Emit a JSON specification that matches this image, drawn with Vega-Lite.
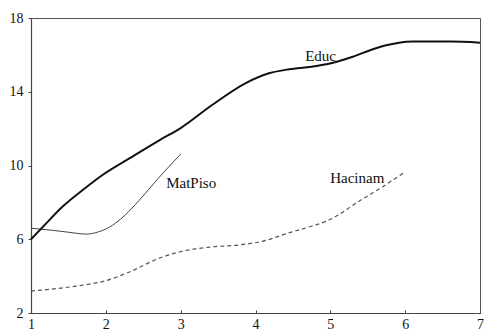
{
  "$schema": "https://vega.github.io/schema/vega-lite/v6.json",
  "width": 449,
  "height": 295,
  "autosize": {"type": "none"},
  "padding": {"left": 31, "top": 18, "right": 4, "bottom": 18},
  "background": "white",
  "config": {
    "view": {"stroke": "#555", "strokeWidth": 1},
    "font": "'Liberation Serif', 'Times New Roman', serif",
    "axis": {
      "grid": false,
      "title": null,
      "domainColor": "#444",
      "tickColor": "#444",
      "labelFont": "'Liberation Serif', 'Times New Roman', serif",
      "labelFontSize": 14,
      "labelColor": "#111",
      "labelFlush": false,
      "labelOverlap": false,
      "format": "d"
    }
  },
  "datasets": {
    "lines": [
      {"series": "Educ", "x": 1.0, "y": 6.0},
      {"series": "Educ", "x": 1.2, "y": 6.85},
      {"series": "Educ", "x": 1.43, "y": 7.8},
      {"series": "Educ", "x": 1.7, "y": 8.7},
      {"series": "Educ", "x": 1.96, "y": 9.5},
      {"series": "Educ", "x": 2.32, "y": 10.4},
      {"series": "Educ", "x": 2.72, "y": 11.38},
      {"series": "Educ", "x": 3.0, "y": 12.03},
      {"series": "Educ", "x": 3.42, "y": 13.28},
      {"series": "Educ", "x": 3.87, "y": 14.47},
      {"series": "Educ", "x": 4.18, "y": 15.0},
      {"series": "Educ", "x": 4.45, "y": 15.22},
      {"series": "Educ", "x": 4.75, "y": 15.36},
      {"series": "Educ", "x": 5.02, "y": 15.56},
      {"series": "Educ", "x": 5.3, "y": 15.9},
      {"series": "Educ", "x": 5.6, "y": 16.35},
      {"series": "Educ", "x": 5.9, "y": 16.64},
      {"series": "Educ", "x": 6.1, "y": 16.72},
      {"series": "Educ", "x": 6.6, "y": 16.72},
      {"series": "Educ", "x": 7.0, "y": 16.66},
      {"series": "MatPiso", "x": 1.0, "y": 6.6},
      {"series": "MatPiso", "x": 1.3, "y": 6.48},
      {"series": "MatPiso", "x": 1.5, "y": 6.38},
      {"series": "MatPiso", "x": 1.74, "y": 6.28},
      {"series": "MatPiso", "x": 1.9, "y": 6.4},
      {"series": "MatPiso", "x": 2.05, "y": 6.66},
      {"series": "MatPiso", "x": 2.2, "y": 7.1},
      {"series": "MatPiso", "x": 2.45, "y": 8.13},
      {"series": "MatPiso", "x": 2.7, "y": 9.3},
      {"series": "MatPiso", "x": 3.0, "y": 10.62},
      {"series": "Hacinam", "x": 1.0, "y": 3.19},
      {"series": "Hacinam", "x": 1.4, "y": 3.35},
      {"series": "Hacinam", "x": 1.78, "y": 3.57},
      {"series": "Hacinam", "x": 2.0, "y": 3.75},
      {"series": "Hacinam", "x": 2.3, "y": 4.2},
      {"series": "Hacinam", "x": 2.72, "y": 4.98},
      {"series": "Hacinam", "x": 2.98, "y": 5.31},
      {"series": "Hacinam", "x": 3.4, "y": 5.58},
      {"series": "Hacinam", "x": 3.78, "y": 5.69},
      {"series": "Hacinam", "x": 4.1, "y": 5.9},
      {"series": "Hacinam", "x": 4.44, "y": 6.34},
      {"series": "Hacinam", "x": 4.67, "y": 6.61},
      {"series": "Hacinam", "x": 4.98, "y": 7.04},
      {"series": "Hacinam", "x": 5.41, "y": 8.13},
      {"series": "Hacinam", "x": 5.7, "y": 8.85},
      {"series": "Hacinam", "x": 5.98, "y": 9.6}
    ],
    "labels": [
      {"label": "Educ", "x": 4.87, "y": 15.94},
      {"label": "MatPiso", "x": 3.14, "y": 9.05},
      {"label": "Hacinam", "x": 5.36, "y": 9.3}
    ]
  },
  "layer": [
    {
      "data": {"name": "lines"},
      "transform": [{"filter": "datum.series === 'Hacinam'"}],
      "mark": {"type": "line", "interpolate": "monotone", "color": "#555", "strokeWidth": 1.2, "strokeDash": [4, 3]},
      "encoding": {
        "x": {"field": "x", "type": "quantitative", "scale": {"domain": [1, 7], "nice": false, "zero": false},
              "axis": {"values": [1, 2, 3, 4, 5, 6, 7], "tickSize": -3, "labelPadding": 7, "domainWidth": 1.2}},
        "y": {"field": "y", "type": "quantitative", "scale": {"domain": [2, 18], "nice": false, "zero": false},
              "axis": {"values": [2, 6, 10, 14, 18], "tickSize": 3, "labelPadding": 5, "domainWidth": 1.2}}
      }
    },
    {
      "data": {"name": "lines"},
      "transform": [{"filter": "datum.series === 'MatPiso'"}],
      "mark": {"type": "line", "interpolate": "monotone", "color": "#444", "strokeWidth": 1},
      "encoding": {
        "x": {"field": "x", "type": "quantitative"},
        "y": {"field": "y", "type": "quantitative"}
      }
    },
    {
      "data": {"name": "lines"},
      "transform": [{"filter": "datum.series === 'Educ'"}],
      "mark": {"type": "line", "interpolate": "monotone", "color": "#111", "strokeWidth": 2},
      "encoding": {
        "x": {"field": "x", "type": "quantitative"},
        "y": {"field": "y", "type": "quantitative"}
      }
    },
    {
      "data": {"name": "labels"},
      "mark": {"type": "text", "font": "'Liberation Serif', 'Times New Roman', serif", "fontSize": 15, "color": "#111", "align": "center", "baseline": "middle"},
      "encoding": {
        "x": {"field": "x", "type": "quantitative"},
        "y": {"field": "y", "type": "quantitative"},
        "text": {"field": "label", "type": "nominal"}
      }
    }
  ]
}
